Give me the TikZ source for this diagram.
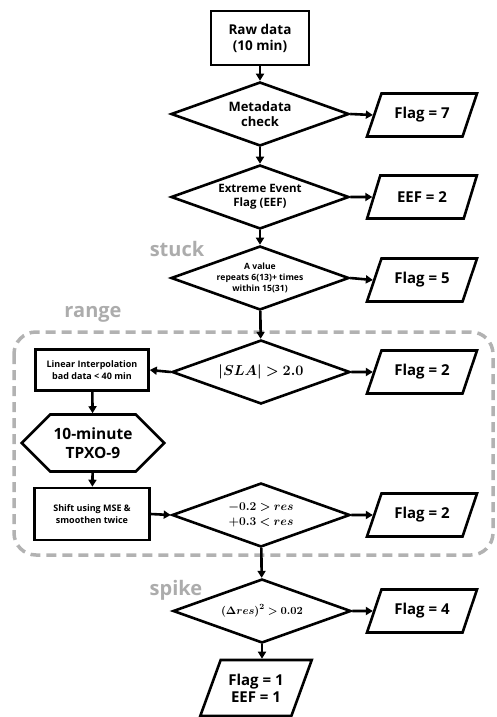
\documentclass[tikz,border=0pt]{standalone}
\usepackage{fontspec}
\setmainfont{Open Sans}
\usepackage{bm}
\usetikzlibrary{shapes.geometric,shapes.symbols,arrows.meta}

\begin{document}
\begin{tikzpicture}[
    x=1pt, y=-1pt,
    every node/.style={
        font=\bfseries,
        align=center
    },
    process/.style={
        rectangle,
        draw,
        line width=2.6pt,
        inner sep=2pt
    },
    decision/.style={
        diamond,
        draw,
        line width=2.6pt,
        aspect=2.8,
        inner sep=0pt,
        minimum width=178pt,
        minimum height=64pt
    },
    flagbox/.style={
        trapezium,
        trapezium left angle=63,
        trapezium right angle=117,
        trapezium stretches=true,
        draw,
        line width=2.6pt,
        minimum width=110pt,
        minimum height=43pt,
        font=\bfseries\fontsize{15}{17}\selectfont
    },
    model/.style={
        signal,
        signal to=west and east,
        signal pointer angle=90,
        draw,
        line width=2.6pt,
        minimum width=140pt,
        minimum height=57pt
    },
    stage/.style={
        text=gray!65,
        font=\bfseries\fontsize{20}{24}\selectfont
    },
    link/.style={
        line width=2.6pt,
        -{Triangle[length=7pt,width=8pt]}
    }
]
\useasboundingbox (0,0) rectangle (497,717);

% Range test group
\draw[gray!60, line width=3.5pt, dash pattern=on 10pt off 6pt, rounded corners=22pt]
    (14,332) rectangle (493,555);

\node[process, minimum width=98pt, minimum height=54pt, font=\bfseries\fontsize{13.5}{16}\selectfont] (raw) at (260,38) {Raw data\\(10 min)};
\node[decision, font=\bfseries\fontsize{13}{15}\selectfont] (meta) at (260,114) {Metadata\\check};
\node[flagbox] (flag7) at (422,115) {Flag = 7};
\node[decision, font=\bfseries\fontsize{11.5}{14}\selectfont] (eef) at (260,197) {Extreme Event\\Flag (EEF)};
\node[flagbox] (eef2) at (422,197) {EEF = 2};
\node[decision, font=\bfseries\fontsize{8.6}{11}\selectfont] (stuck) at (260,278) {A value\\repeats 6(13)+ times\\within 15(31)};
\node[flagbox] (flag5) at (422,280) {Flag = 5};
\node[decision, font=\fontsize{14}{16}\selectfont] (sla) at (261,372) {$\bm{|SLA| > 2.0}$};
\node[flagbox] (flag2a) at (422,372) {Flag = 2};
\node[process, minimum width=113pt, minimum height=41pt, font=\bfseries\fontsize{9}{11.5}\selectfont] (interp) at (92,370) {Linear Interpolation\\bad data < 40 min};
\node[model, font=\bfseries\fontsize{15.5}{19}\selectfont] (tpxo) at (93,443) {10-minute\\TPXO-9};
\node[process, minimum width=115pt, minimum height=52pt, font=\bfseries\fontsize{9}{12}\selectfont] (shift) at (92,514) {Shift using MSE \&\\smoothen twice};
\node[decision, font=\fontsize{12.5}{14.5}\selectfont] (res) at (261,515) {$\bm{-0.2 > res}$\\$\bm{+0.3 < res}$};
\node[flagbox] (flag2b) at (422,515) {Flag = 2};
\node[decision, font=\fontsize{11}{13}\selectfont] (spike) at (262,611) {$\bm{(\Delta res)^2 > 0.02}$};
\node[flagbox] (flag4) at (422,611) {Flag = 4};
\node[flagbox, minimum width=112pt, minimum height=56pt] (final) at (256,688) {Flag = 1\\EEF = 1};

% Test names
\node[stage] (stucklabel) at (177,249) {stuck};
\node[stage] (rangelabel) at (93,314) {range};
\node[stage] (spikelabel) at (176,590) {spike};

% Main flow
\draw[link] (raw) -- (meta);
\draw[link] (meta) -- (eef);
\draw[link] (eef) -- (stuck);
\draw[link] (stuck) -- (sla);
\draw[link] (res) -- (spike);
\draw[link] (spike.south) -- (spike.south |- final.north);

% Flags
\draw[link] (meta.east) -- (flag7.west);
\draw[link] (eef.east) -- (eef2.west);
\draw[link] (stuck.east) -- (flag5.west);
\draw[link] (sla.east) -- (flag2a.west);
\draw[link] (res.east) -- (flag2b.west);
\draw[link] (spike.east) -- (flag4.west);

% Residual branch
\draw[link] (sla.west) -- (interp.east);
\draw[link] (interp) -- (tpxo);
\draw[link] (tpxo) -- (shift);
\draw[link] (shift.east) -- (res.west);

\end{tikzpicture}
\end{document}
